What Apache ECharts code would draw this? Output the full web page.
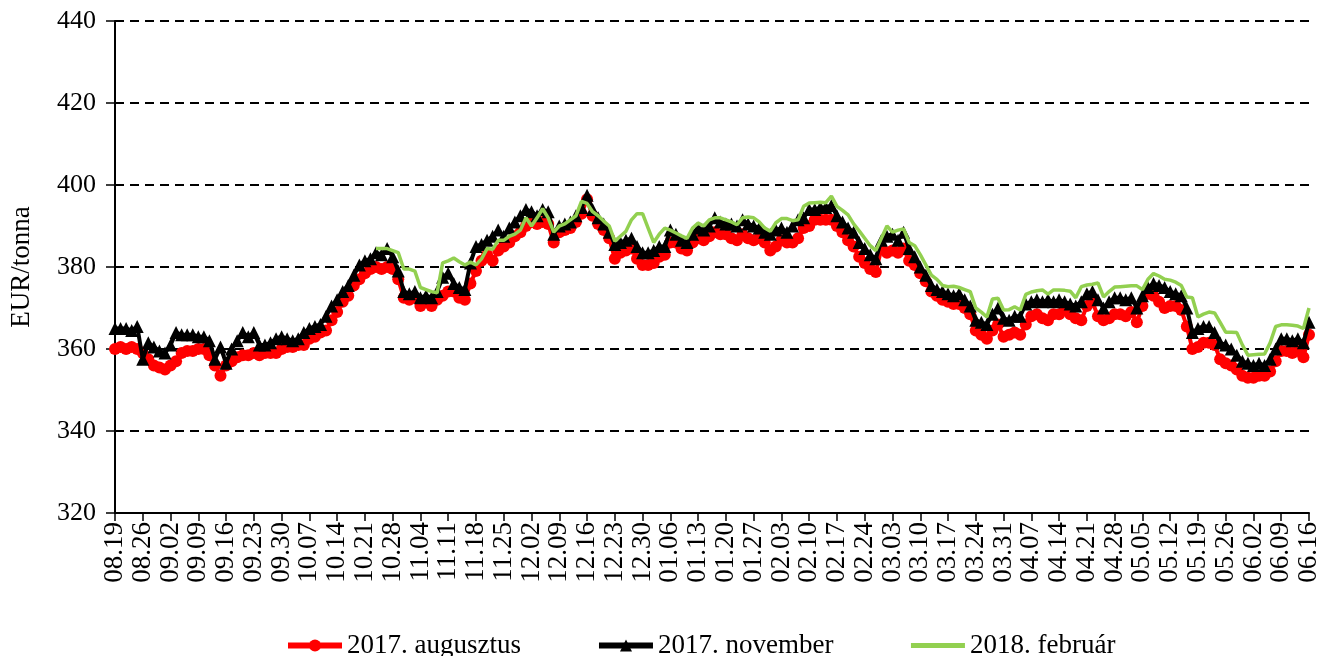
<!DOCTYPE html>
<html>
<head>
<meta charset="utf-8">
<script src="https://cdn.jsdelivr.net/npm/echarts@6/dist/echarts.min.js"></script>
<style>
  html, body { margin: 0; padding: 0; background: #fff; }
  #chart { width: 1325px; height: 656px; }
</style>
</head>
<body>
<div id="chart"></div>
<script>
// heti címkék (péntekek)
var weekLabels = ['08.19','08.26','09.02','09.09','09.16','09.23','09.30','10.07','10.14','10.21',
  '10.28','11.04','11.11','11.18','11.25','12.02','12.09','12.16','12.23','12.30',
  '01.06','01.13','01.20','01.27','02.03','02.10','02.17','02.24','03.03','03.10',
  '03.17','03.24','03.31','04.07','04.14','04.21','04.28','05.05','05.12','05.19',
  '05.26','06.02','06.09','06.16'];

// 2017. augusztus (EUR/tonna), napi
var aug2017 = [
  360,360.5,360,360.5,360, 359,357.5,356,355.5,355, 356,357,359,359.5,359.5, 360,360,358.5,356,353.5,
  356,357,358,358.5,358.5, 359,358.5,359,359,359, 360,360.5,360.5,361,361, 362.5,363,364,364.5,367,
  369,371.5,373,375.5,377, 378.5,379.5,380,379.5,380, 379.5,377,372.5,372,372.5, 370.5,371.5,370.5,372,373,
  374,374,372.5,372,376, 379,381.5,383,381.5,384, 385,386,387.5,388.5,390, 391,390.5,391,390.5,386,
  388.5,389,389.5,391,393, 396.5,392.5,390.5,389,387, 382,383.5,384,384.5,382, 380.5,380.5,381,382.5,383,
  386,386,384.5,384,386, 387,386.5,387.5,388.5,388, 388,387,386.5,388,387, 386.5,387,386,384,385,
  386.5,386,386,387,389.5, 390,391.5,391.5,391.5,391.5, 390,388.5,386.5,385,382.5, 381,379.5,378.8,384.5,383.5,
  384,383.5,384.5,381.5,380.5, 378.5,376.5,374,373,372, 371.5,371,371,370,368.5, 364.5,363.5,362.5,364.5,366,
  363,363.5,364,363.5,366, 368,368.5,367.5,367,368.5, 368.5,369.5,368.5,367.5,367, 370.5,371.5,368,367,367.5,
  368.5,368.5,368,369,366.5, 370.5,373.5,373,371.5,370, 370.5,370.5,369.5,365.5,360, 360.5,361.5,361.5,361,357.5,
  356.5,356,355,353.5,353, 353,353.5,353.5,354.5,357, 359.5,359.5,359,359.5,358, 363.5
];

// 2017. november
var nov2017 = [
  365,365,365,364.5,365.5, 357.5,361.5,360.5,359.5,359, 361,364,363.5,363.5,363.5, 363,363,362,357.5,360.5,
  356.5,360,362,364,363, 364,361,361,361.5,362.5, 363,362.5,362,362.5,364, 365,365.5,366,368,370.5,
  372,374,375.5,378,380.5, 381.5,382,383.5,383,384.5, 382.5,379,374,373.5,374, 372.5,373,372.5,374,377.5,
  378.5,376,375,374.5,381, 385,385.5,386.5,387.5,389, 387.5,389.5,391,392.5,394, 393.5,392.5,394,393.5,388,
  390,390.5,391,392.5,394.5, 397.5,394,392,390.5,388.5, 385.5,386,386.5,387,385, 383.5,383.5,384,385,385,
  389,388,386.5,386,388, 389.5,389,390,392,391, 390.5,390.5,390,391.5,390.5, 390,389.5,388.5,388,389,
  389.5,388.5,390,391.5,392, 394,394,394.5,394.5,395, 392.5,391,389.5,388.5,386, 384.5,383,382,386.5,387.5,
  388,386.5,388.5,384.5,382.5, 380,378,375.5,374.5,374, 373.5,373,373.5,372,370.5, 367,366.5,366,368.5,370,
  367.5,367,368,368,371, 371.5,372,371.5,372,371.5, 372,371.5,371,370.5,371.5, 373.5,374,372,370,371.5,
  372.5,372.5,372,372.5,370, 373,375,376,375.5,375, 374,373.5,373,370,364, 365,365.5,365.5,364,361.5,
  361,360,358.5,357,356.5, 356,356.5,356,357.5,360, 362.5,362.5,362,362.5,361.5, 366.5
];

// 2018. február (csak 10.25-től)
var feb2018 = [
  null,null,null,null,null, null,null,null,null,null, null,null,null,null,null, null,null,null,null,null,
  null,null,null,null,null, null,null,null,null,null, null,null,null,null,null, null,null,null,null,null,
  null,null,null,null,null, null,null,384.5,384.5,384.5, 384,383.5,379.5,379.5,379, 375,374.5,374,373.7,381,
  381.5,382.2,381.3,380.5,381.2, 380.5,382,384.5,384.3,386.5, 386.5,387.5,388,389,392, 390,392,394.2,392,388.5,
  390,390.5,391.5,392.5,396, 395.5,393.5,392.5,391.2,390, 386.3,387.5,388.7,391.5,393, 393,389.5,386,388,389.5,
  389,388.3,387.6,387,389.5, 390.7,390,391.5,392,392, 391.5,391,390.3,392,392.2, 392,391,389.5,388.7,390.8,
  391.8,391.8,391.3,391.5,394.8, 395.6,395.7,395.8,395.7,397.3, 394.8,393.8,392.7,390.5,388.8, 387,385.2,384,387,390,
  388.5,389,389.3,386,385.2, 383,380.5,378,377,375.5, 375.2,375.3,375,374.5,374, 370,369,367.8,372.2,372.4,
  369.5,369.6,370.3,369.5,373.3, 373.9,374.2,374.4,373.4,374.4, 374.4,374.3,374.1,372.5,375.2, 375.6,375.8,376.1,372.7,374,
  375.1,375.2,375.3,375.4,375.4, 374.5,377,378.4,377.8,377, 376.8,376.3,375.5,372.7,372.5, 367.8,368.5,369,368.8,366.5,
  364.1,364.1,364,361,358.5, 358.6,358.7,358.8,361.5,365.5, 365.9,365.9,365.8,365.6,365, 370
];

// munkanapok dátumai 2016.08.19-től
var days = [];
var d = new Date(2016, 7, 19);
while (days.length < aug2017.length) {
  var wd = d.getDay();
  if (wd !== 0 && wd !== 6) {
    days.push(('0' + (d.getMonth() + 1)).slice(-2) + '.' + ('0' + d.getDate()).slice(-2));
  }
  d.setDate(d.getDate() + 1);
}

var font = 'Liberation Serif, Times New Roman, serif';

var chart = echarts.init(document.getElementById('chart'), null, { renderer: 'canvas' });
var option = {
  animation: false,
  textStyle: { fontFamily: font, color: '#000' },
  grid: { left: 114, right: 16, top: 21, bottom: 143 },
  legend: {
    left: 280,
    top: 627,
    itemWidth: 54,
    itemHeight: 15,
    itemGap: 75,
    lineStyle: { width: 6 },
    textStyle: { fontFamily: font, fontSize: 27, color: '#000' },
    data: [
      { name: '2017. augusztus' },
      { name: '2017. november' },
      { name: '2018. február', itemStyle: { opacity: 0 }, lineStyle: { width: 5 } }
    ]
  },
  xAxis: {
    type: 'category',
    data: days,
    boundaryGap: false,
    axisLine: { lineStyle: { color: '#000', width: 2 } },
    axisTick: { interval: 4, length: 8, lineStyle: { color: '#000', width: 1.5 } },
    axisLabel: {
      interval: 4,
      rotate: 90,
      margin: 9,
      fontFamily: font,
      fontSize: 27,
      color: '#000',
      formatter: function (v, i) { return weekLabels[i / 5]; }
    },
    splitLine: { show: false }
  },
  yAxis: {
    type: 'value',
    min: 320,
    max: 440,
    interval: 20,
    name: 'EUR/tonna',
    nameLocation: 'middle',
    nameRotate: 90,
    nameGap: 80,
    nameTextStyle: { fontFamily: font, fontSize: 27, color: '#000' },
    axisLine: { show: true, lineStyle: { color: '#000', width: 2 } },
    axisTick: { show: true, length: 9, lineStyle: { color: '#000', width: 1.5 } },
    axisLabel: { margin: 19, fontFamily: font, fontSize: 26, color: '#000' },
    splitLine: { lineStyle: { color: '#000', type: [9, 6], width: 2 } }
  },
  series: [
    {
      name: '2017. augusztus',
      type: 'line',
      data: aug2017,
      symbol: 'circle',
      symbolSize: 12,
      showAllSymbol: true,
      color: '#ff0000',
      lineStyle: { width: 4, color: '#ff0000' },
      itemStyle: { color: '#ff0000' },
      z: 2
    },
    {
      name: '2017. november',
      type: 'line',
      data: nov2017,
      symbol: 'triangle',
      symbolSize: 13,
      showAllSymbol: true,
      color: '#000',
      lineStyle: { width: 4, color: '#000' },
      itemStyle: { color: '#000' },
      z: 3
    },
    {
      name: '2018. február',
      type: 'line',
      data: feb2018,
      showSymbol: false,
      symbol: 'none',
      color: '#92d050',
      lineStyle: { width: 3.5, color: '#92d050' },
      z: 4
    }
  ]
};
chart.setOption(option);
</script>
</body>
</html>
